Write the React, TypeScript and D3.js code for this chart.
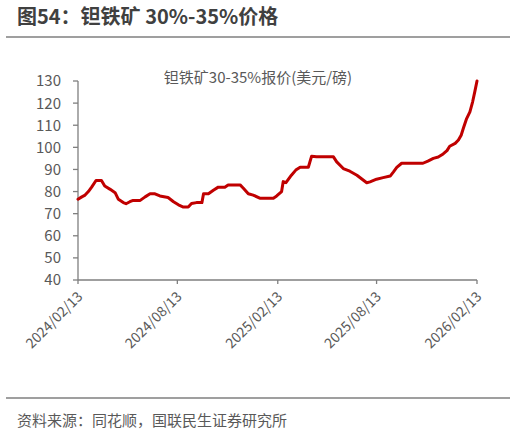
import React, { useEffect, useRef } from "react";
import * as d3 from "d3";

const title = "图54：钽铁矿 30%-35%价格";
const legendLabel = "钽铁矿30-35%报价(美元/磅)";
const source = "资料来源：同花顺，国联民生证券研究所";

const dates: string[] = [
  "2024-02-13","2024-02-20","2024-02-26","2024-03-03","2024-03-09","2024-03-17","2024-03-27","2024-04-02",
  "2024-04-12","2024-04-21","2024-04-27","2024-05-06","2024-05-11","2024-05-18","2024-05-24","2024-06-06",
  "2024-06-15","2024-06-24","2024-07-03","2024-07-12","2024-07-27","2024-08-06","2024-08-15","2024-08-24",
  "2024-09-02","2024-09-08","2024-09-17","2024-09-27","2024-09-30","2024-10-09","2024-10-18","2024-10-27",
  "2024-11-08","2024-11-14","2024-12-06","2024-12-12","2024-12-21","2024-12-30","2025-01-11","2025-02-05",
  "2025-02-11","2025-02-20","2025-02-23","2025-02-28","2025-03-10","2025-03-18","2025-03-26","2025-04-10",
  "2025-04-16","2025-04-25","2025-05-26","2025-06-01","2025-06-13","2025-06-25","2025-07-08","2025-07-26",
  "2025-08-01","2025-08-13","2025-08-25","2025-09-07","2025-09-13","2025-09-19","2025-09-28","2025-11-06",
  "2025-11-15","2025-11-25","2025-12-04","2025-12-13","2025-12-20","2025-12-25","2026-01-04","2026-01-10",
  "2026-01-15","2026-01-19","2026-01-25","2026-01-31","2026-02-05","2026-02-09","2026-02-13",
];
const prices: number[] = [
  76.5, 77.6, 78.4, 80, 82, 85, 85, 82.5,
  81, 79.5, 76.5, 75, 74.5, 75.4, 76, 76,
  77.6, 79, 79, 78, 77.3, 75.4, 74, 73,
  73, 74.6, 75, 75, 79, 79, 80.6, 82,
  82, 83, 83, 81.5, 79, 78.4, 77, 77,
  78, 80, 84.5, 84, 87.4, 89.7, 91, 91,
  96, 95.7, 95.7, 93.4, 90.4, 89.2, 87.4, 84,
  84.4, 85.6, 86.3, 87, 88.9, 90.9, 92.8, 92.8,
  93.8, 95, 95.6, 97, 98.5, 100.5, 101.8, 103.3,
  105.5, 108.6, 113, 116, 120.6, 125.2, 130,
];
const yTicks: number[] = [40, 50, 60, 70, 80, 90, 100, 110, 120, 130];
const xTickLabels: string[] = ["2024/02/13", "2024/08/13", "2025/02/13", "2025/08/13", "2026/02/13"];

const W = 516, H = 432;
const FONT = "'Noto Sans CJK SC', 'Noto Sans', sans-serif";

export default function App() {
  const ref = useRef<SVGSVGElement | null>(null);
  useEffect(() => {
    document.body.style.margin = "0";
    const svg = d3.select(ref.current);
    svg.selectAll("*").remove();
    const parse = d3.timeParse("%Y-%m-%d");
    const parseTick = d3.timeParse("%Y/%m/%d");
    const data = dates.map((d, i) => ({ date: parse(d) as Date, v: prices[i] }));
    const x = d3.scaleTime()
      .domain([parse("2024-02-13") as Date, parse("2026-02-13") as Date])
      .range([78, 477]);
    const y = d3.scaleLinear().domain([40, 130]).range([280, 81]);

    // title
    svg.append("text").attr("x", 17).attr("y", 24)
      .attr("font-family", FONT).attr("font-weight", "bold").attr("font-size", 20)
      .attr("fill", "#404040").text(title);
    svg.append("line").attr("x1", 6).attr("x2", 510).attr("y1", 37).attr("y2", 37)
      .attr("stroke", "#7f7f7f").attr("stroke-width", 1.5);

    // y axis
    const gy = svg.append("g");
    gy.append("line").attr("x1", 78).attr("x2", 78).attr("y1", 81).attr("y2", 280)
      .attr("stroke", "#7f7f7f").attr("stroke-width", 1.3);
    yTicks.forEach((t) => {
      gy.append("line").attr("x1", 73).attr("x2", 78).attr("y1", y(t)).attr("y2", y(t))
        .attr("stroke", "#7f7f7f").attr("stroke-width", 1.3);
      gy.append("text").attr("x", 61).attr("y", y(t)).attr("dy", "0.36em")
        .attr("text-anchor", "end").attr("font-family", FONT).attr("font-size", 15)
        .attr("fill", "#595959").text(String(t));
    });

    // x axis
    const gx = svg.append("g");
    gx.append("line").attr("x1", 78).attr("x2", 477).attr("y1", 280).attr("y2", 280)
      .attr("stroke", "#7f7f7f").attr("stroke-width", 1.3);
    xTickLabels.forEach((lab) => {
      const xp = x(parseTick(lab) as Date);
      gx.append("line").attr("x1", xp).attr("x2", xp).attr("y1", 280).attr("y2", 284)
        .attr("stroke", "#7f7f7f").attr("stroke-width", 1.3);
      gx.append("text")
        .attr("transform", `translate(${xp + 2},${294}) rotate(-45)`)
        .attr("text-anchor", "end").attr("dy", "0.35em")
        .attr("font-family", FONT).attr("font-size", 14)
        .attr("fill", "#595959").text(lab);
    });

    // line
    const line = d3.line<{ date: Date; v: number }>()
      .x((d) => x(d.date)).y((d) => y(d.v));
    svg.append("path").datum(data).attr("d", line)
      .attr("fill", "none").attr("stroke", "#C00000").attr("stroke-width", 3)
      .attr("stroke-linejoin", "round").attr("stroke-linecap", "round");

    // legend label
    svg.append("text").attr("x", 258).attr("y", 78).attr("dy", "0.36em")
      .attr("text-anchor", "middle").attr("font-family", FONT).attr("font-size", 15)
      .attr("fill", "#595959").text(legendLabel);

    // footer
    svg.append("line").attr("x1", 6).attr("x2", 510).attr("y1", 398).attr("y2", 398)
      .attr("stroke", "#7f7f7f").attr("stroke-width", 1.5);
    svg.append("text").attr("x", 17).attr("y", 421).attr("dy", "0.36em")
      .attr("font-family", FONT).attr("font-size", 15)
      .attr("fill", "#595959").text(source);
  }, []);
  return <svg ref={ref} width={W} height={H} style={{ display: "block", background: "#fff" }} />;
}
